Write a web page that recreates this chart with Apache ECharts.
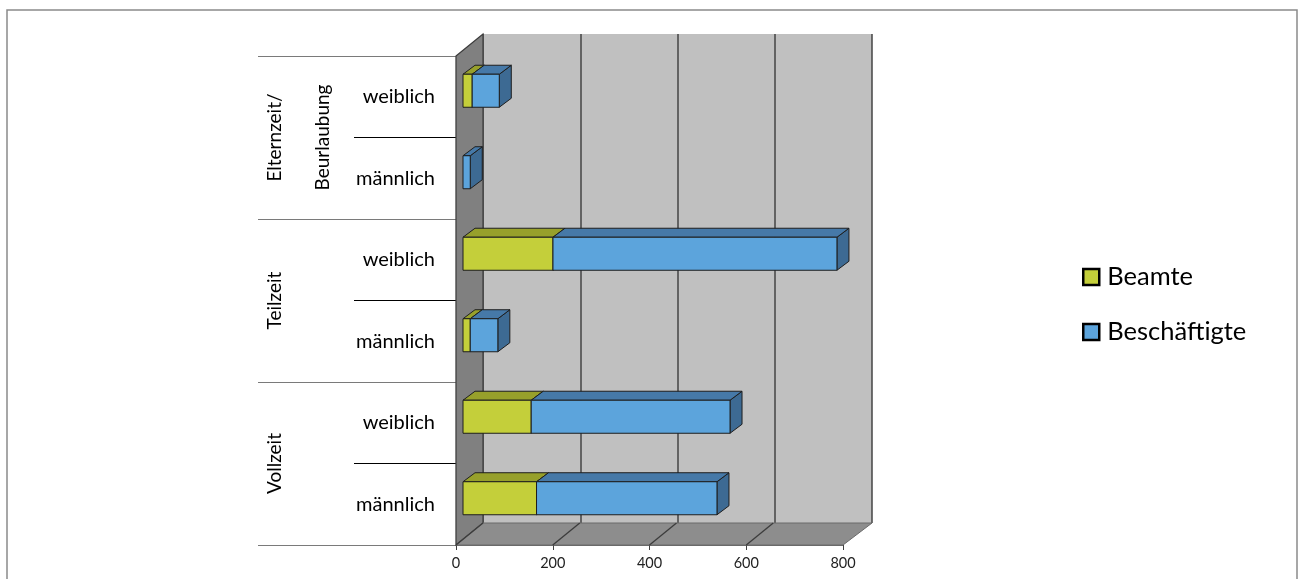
<!DOCTYPE html>
<html><head><meta charset="utf-8">
<script src="https://cdn.jsdelivr.net/npm/echarts@6/dist/echarts.min.js"></script>
<style>html,body{margin:0;padding:0;background:#fff}#c{width:1301px;height:579px}</style>
</head><body><div id="c"></div>
<script>
// ---- data ----
const categories = ['männlich', 'weiblich', 'männlich', 'weiblich', 'männlich', 'weiblich'];
const groups = ['Vollzeit', 'Teilzeit', 'Elternzeit/\nBeurlaubung'];
const beamte = [152, 141, 15, 186, 0, 19];
const beschaeftigte = [373, 411, 57, 587, 15, 56];
const xTicks = [0, 200, 400, 600, 800];

// ---- styles ----
const FONT = 'Lato';
const DEPTH = [27, -22];
const BAR_OFF = [7, -6];
const BAR_DEPTH = [12, -9];
const G = { left: 456, top: 56, right: 458, bottom: 34 };

function stackData(base, vals) {
  return vals.map((v, i) => [base[i], base[i] + v, i]);
}
const zeros = beamte.map(() => 0);
const beamteData = stackData(zeros, beamte).filter((d, i) => beamte[i] > 0);
const beschData = stackData(beamte, beschaeftigte).filter((d, i) => beschaeftigte[i] > 0);

function barRenderer(front, top, side) {
  return function (params, api) {
    const cat = api.value(2);
    const s = api.coord([api.value(0), cat]);
    const e = api.coord([api.value(1), cat]);
    const band = api.size([0, 1])[1];
    const h = band * 0.405;
    const x0 = s[0] + BAR_OFF[0], x1 = e[0] + BAR_OFF[0];
    const yc = s[1] + BAR_OFF[1], yt = yc - h / 2, yb = yc + h / 2;
    const dx = BAR_DEPTH[0], dy = BAR_DEPTH[1];
    const st = { stroke: '#1e1e1e', lineWidth: 1, lineJoin: 'round' };
    return {
      type: 'group',
      children: [
        { type: 'polygon', shape: { points: [[x1, yt], [x1 + dx, yt + dy], [x1 + dx, yb + dy], [x1, yb]] }, style: Object.assign({ fill: side }, st) },
        { type: 'polygon', shape: { points: [[x0, yt], [x0 + dx, yt + dy], [x1 + dx, yt + dy], [x1, yt]] }, style: Object.assign({ fill: top }, st) },
        { type: 'rect', shape: { x: x0, y: yt, width: x1 - x0, height: h }, style: Object.assign({ fill: front }, st) }
      ]
    };
  };
}

function frameRenderer(params, api) {
  const cs = params.coordSys;
  const x = cs.x, y = cs.y, w = cs.width, h = cs.height;
  const dx = DEPTH[0], dy = DEPTH[1];
  const children = [
    { type: 'polygon', shape: { points: [[x, y], [x + dx, y + dy], [x + dx, y + h + dy], [x, y + h]] },
      style: { fill: '#808080', stroke: '#3c3c3c', lineWidth: 1.2 } },
    { type: 'polygon', shape: { points: [[x, y + h], [x + w, y + h], [x + w + dx + 2, y + h + dy], [x + dx, y + h + dy]] },
      style: { fill: '#8d8d8d', stroke: '#6a6a6a', lineWidth: 1 } }
  ];
  xTicks.forEach(v => {
    if (v === xTicks[xTicks.length - 1]) return;
    const p = api.coord([v, 0]);
    children.push({ type: 'line', shape: { x1: p[0], y1: y + h, x2: p[0] + dx, y2: y + h + dy },
      style: { stroke: '#3c3c3c', lineWidth: 1.3 } });
  });
  return { type: 'group', children };
}

const chart = echarts.init(document.getElementById('c'), null, { renderer: 'canvas' });
chart.setOption({
  backgroundColor: '#fff',
  animation: false,
  textStyle: { fontFamily: FONT },
  graphic: [{
    type: 'rect', shape: { x: 7, y: 10, width: 1290, height: 600 },
    style: { fill: 'none', stroke: '#8a8a8a', lineWidth: 1.5 }, z: 0, silent: true
  }],
  legend: {
    orient: 'vertical', left: 1082, top: 262, itemGap: 25, padding: 0,
    itemWidth: 16, itemHeight: 16, icon: 'rect',
    textStyle: { fontFamily: FONT, fontSize: 25.5, color: '#000', lineHeight: 30, padding: [0, 0, 0, 3] },
    data: [
      { name: 'Beamte', itemStyle: { color: '#c4cf3a', borderColor: '#000', borderWidth: 2.5 } },
      { name: 'Beschäftigte', itemStyle: { color: '#5ca4dc', borderColor: '#000', borderWidth: 2.5 } }
    ]
  },
  grid: [
    { left: G.left, top: G.top, right: G.right, bottom: G.bottom, containLabel: false },
    { left: G.left + DEPTH[0], top: G.top + DEPTH[1], right: G.right - DEPTH[0] - 2, bottom: G.bottom - DEPTH[1],
      show: true, backgroundColor: '#c0c0c0', borderWidth: 0, z: 0 }
  ],
  xAxis: [
    { type: 'value', gridIndex: 0, min: 0, max: 800, interval: 200,
      axisLine: { show: true, lineStyle: { color: '#6a6a6a', width: 1 } },
      axisTick: { show: true, length: 5, lineStyle: { color: '#404040' } },
      splitLine: { show: false },
      axisLabel: { fontFamily: FONT, fontSize: 14.5, color: '#222', margin: 11 } },
    { type: 'value', gridIndex: 1, min: 0, max: 800, interval: 200,
      axisLine: { show: false }, axisTick: { show: false }, axisLabel: { show: false },
      splitLine: { show: true, lineStyle: { color: '#454545', width: 1.5 } } }
  ],
  yAxis: [
    { type: 'category', gridIndex: 0, data: categories, position: 'left',
      axisLine: { show: true, lineStyle: { color: '#3c3c3c', width: 1.2 } },
      axisTick: { show: true, length: 102, lineStyle: { color: '#000', width: 1 } },
      axisLabel: { fontFamily: FONT, fontSize: 20, color: '#000', margin: 21 } },
    { type: 'category', gridIndex: 0, data: groups, position: 'left', offset: 0,
      axisLine: { show: false },
      axisTick: { show: true, length: 198, lineStyle: { color: '#7a7a7a', width: 1.2 } },
      axisLabel: { fontFamily: FONT, fontSize: 19, color: '#000', rotate: 90, margin: 109, lineHeight: 48,
        formatter: v => v.indexOf('\n') >= 0 ? v : v + '\n\u00a0' } },
    { type: 'category', gridIndex: 1, data: categories, show: false }
  ],
  series: [
    { type: 'custom', name: 'frame', xAxisIndex: 0, yAxisIndex: 0, z: 1, silent: true,
      renderItem: frameRenderer, data: [[0, 0]], encode: { x: 0, y: 1 } },
    { type: 'custom', name: 'Beamte', xAxisIndex: 0, yAxisIndex: 0, z: 3,
      itemStyle: { color: '#c4cf3a' },
      renderItem: barRenderer('#c4cf3a', '#97a02b', '#7f8a22'),
      data: beamteData, encode: { x: [0, 1], y: 2 } },
    { type: 'custom', name: 'Beschäftigte', xAxisIndex: 0, yAxisIndex: 0, z: 4,
      itemStyle: { color: '#5ca4dc' },
      renderItem: barRenderer('#5ca4dc', '#4679a8', '#3d6a93'),
      data: beschData, encode: { x: [0, 1], y: 2 } }
  ]
});
</script></body></html>
